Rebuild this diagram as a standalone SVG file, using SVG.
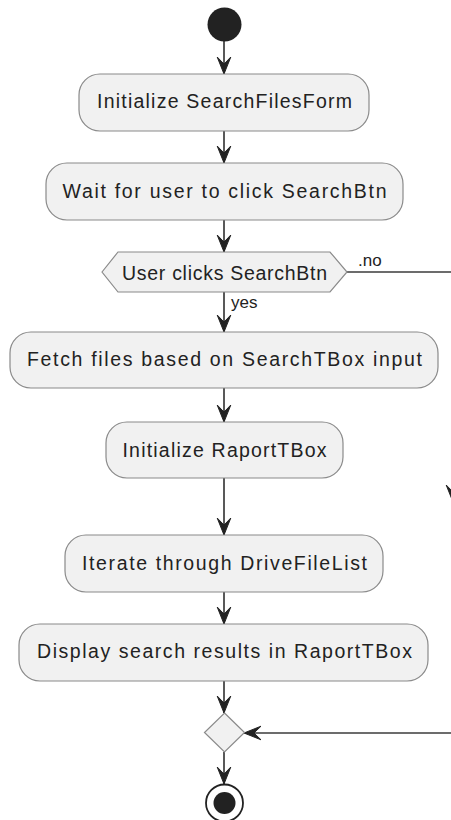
<svg xmlns="http://www.w3.org/2000/svg" width="451" height="820" viewBox="0 0 451 820">
  <style>
    .act { fill: #F1F1F1; stroke: #8a8a8a; stroke-width: 1.2; }
    .lbl { font-family: "Liberation Sans", Arial, sans-serif; font-size: 19.5px; fill: #222; text-anchor: middle; }
    .edge { font-family: "Liberation Sans", Arial, sans-serif; font-size: 17px; fill: #222; }
    .flow { stroke: #3c3c3c; stroke-width: 1.7; fill: none; }
  </style>
  <defs>
    <marker id="head" markerUnits="userSpaceOnUse" markerWidth="20" markerHeight="16" refX="0" refY="0" viewBox="-18 -8 19 16" orient="auto" overflow="visible">
      <path d="M0,0 L-17,-6.8 L-10,0 L-17,6.8 Z" fill="#222" stroke="#222" stroke-width="1"/>
    </marker>
  </defs>

  <!-- connectors -->
  <g id="connectors">
    <line class="flow" x1="224" y1="41" x2="224" y2="74" marker-end="url(#head)"/>
    <line class="flow" x1="224" y1="131" x2="224" y2="163" marker-end="url(#head)"/>
    <line class="flow" x1="224" y1="220" x2="224" y2="252" marker-end="url(#head)"/>
    <line class="flow" x1="224" y1="292" x2="224" y2="332" marker-end="url(#head)"/>
    <line class="flow" x1="224" y1="388" x2="224" y2="422" marker-end="url(#head)"/>
    <line class="flow" x1="224" y1="478" x2="224" y2="535" marker-end="url(#head)"/>
    <line class="flow" x1="224" y1="592" x2="224" y2="624" marker-end="url(#head)"/>
    <line class="flow" x1="224" y1="681" x2="224" y2="713" marker-end="url(#head)"/>
    <line class="flow" x1="224" y1="752" x2="224" y2="784" marker-end="url(#head)"/>
    <!-- "no" branch running past the right edge and back into the merge -->
    <polyline class="flow" points="347,272 453,272 453,502" marker-end="url(#head)"/>
    <polyline class="flow" points="453,502 453,733 244,733" marker-end="url(#head)"/>
    <text class="edge" x="358" y="266">.no</text>
    <text class="edge" x="231" y="308">yes</text>
  </g>

  <g id="start">
    <circle cx="224.5" cy="24.5" r="17" fill="#222"/>
  </g>

  <g id="init-form">
    <rect class="act" x="79" y="74" width="290" height="57" rx="21"/>
    <text class="lbl" x="224.5" y="108" textLength="255" lengthAdjust="spacing">Initialize SearchFilesForm</text>
  </g>

  <g id="wait-click">
    <rect class="act" x="46" y="163" width="357" height="57" rx="21"/>
    <text class="lbl" x="224.5" y="198" textLength="324" lengthAdjust="spacing">Wait for user to click SearchBtn</text>
  </g>

  <g id="decision-click">
    <polygon class="act" points="102,272 118,252 330,252 347,272 330,292 118,292"/>
    <text class="lbl" x="224.5" y="280" textLength="205" lengthAdjust="spacing">User clicks SearchBtn</text>
  </g>

  <g id="fetch-files">
    <rect class="act" x="10" y="332" width="428" height="56" rx="21"/>
    <text class="lbl" x="224.5" y="366" textLength="395" lengthAdjust="spacing">Fetch files based on SearchTBox input</text>
  </g>

  <g id="init-raport">
    <rect class="act" x="106" y="422" width="237" height="56" rx="21"/>
    <text class="lbl" x="224.5" y="457" textLength="204" lengthAdjust="spacing">Initialize RaportTBox</text>
  </g>

  <g id="iterate">
    <rect class="act" x="65" y="535" width="318" height="57" rx="21"/>
    <text class="lbl" x="224.5" y="570" textLength="285" lengthAdjust="spacing">Iterate through DriveFileList</text>
  </g>

  <g id="display-results">
    <rect class="act" x="19" y="624" width="409" height="57" rx="21"/>
    <text class="lbl" x="224.5" y="658" textLength="375" lengthAdjust="spacing">Display search results in RaportTBox</text>
  </g>

  <g id="merge">
    <polygon class="act" points="224.5,713 244.5,732.5 224.5,752 204.5,732.5"/>
  </g>

  <g id="end">
    <circle cx="224.5" cy="803" r="18.5" fill="#fff" stroke="#222" stroke-width="1.8"/>
    <circle cx="224.5" cy="803" r="11" fill="#222"/>
  </g>
</svg>
